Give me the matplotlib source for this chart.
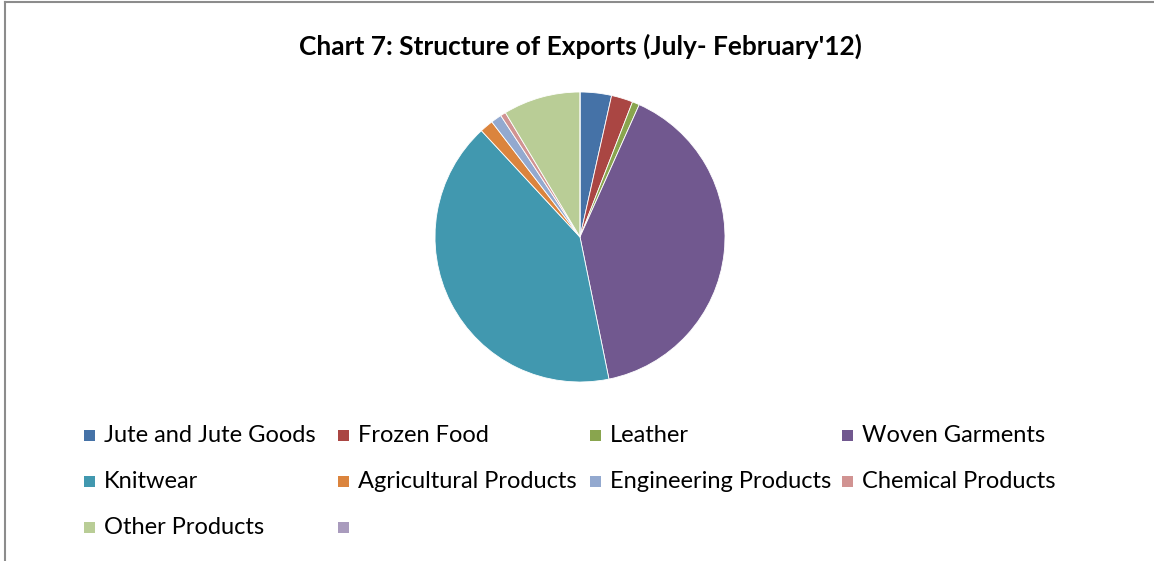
import matplotlib.pyplot as plt
from matplotlib.patches import Rectangle
from matplotlib.lines import Line2D

# Export shares (%)
categories = ["Jute and Jute Goods", "Frozen Food", "Leather", "Woven Garments",
              "Knitwear", "Agricultural Products", "Engineering Products",
              "Chemical Products", "Other Products", ""]
shares = [3.5, 2.4, 0.8, 40.1, 41.3, 1.5, 1.2, 0.6, 8.6, 0.0]
colors = ["#4572A7", "#AA4643", "#89A54E", "#71588F", "#4198AF",
          "#DB843D", "#93A9CF", "#D19392", "#B9CD96", "#A99BBD"]

W, H = 1154, 561
FONT = "Lato"

fig = plt.figure(figsize=(W / 100, H / 100), dpi=100)
fig.patch.set_facecolor("white")

# chart border (top and left visible)
fig.add_artist(Line2D([5 / W, 5 / W], [0, 1 - 2 / H], color="#8c8c8c", lw=1.5))
fig.add_artist(Line2D([5 / W, 1], [1 - 2 / H, 1 - 2 / H], color="#8c8c8c", lw=1.5))

fig.text(580 / W, 1 - 46 / H, "Chart 7: Structure of Exports (July- February'12)",
         ha="center", va="center", fontsize=18.9, fontweight="bold", family=FONT)

cx, cy, r = 580, 237, 145
ax = fig.add_axes([(cx - r) / W, (H - cy - r) / H, 2 * r / W, 2 * r / H])
ax.pie(shares, colors=colors, startangle=90, counterclock=False,
       wedgeprops=dict(edgecolor="white", linewidth=0.6))
ax.set_xlim(-1, 1)
ax.set_ylim(-1, 1)
ax.set_aspect("equal")
ax.axis("off")

# legend, row-major like the spreadsheet
col_x = [84, 338, 590, 842]
row_y = [435, 481, 527]
for i, (label, c) in enumerate(zip(categories, colors)):
    x = col_x[i % 4]
    y = row_y[i // 4]
    fig.add_artist(Rectangle((x / W, (H - y - 6) / H), 11 / W, 11 / H,
                             facecolor=c, edgecolor="none"))
    fig.text((x + 20) / W, (H - y - 1) / H, label, ha="left", va="center",
             fontsize=17, family=FONT)

fig.savefig("out.png", dpi=100)
